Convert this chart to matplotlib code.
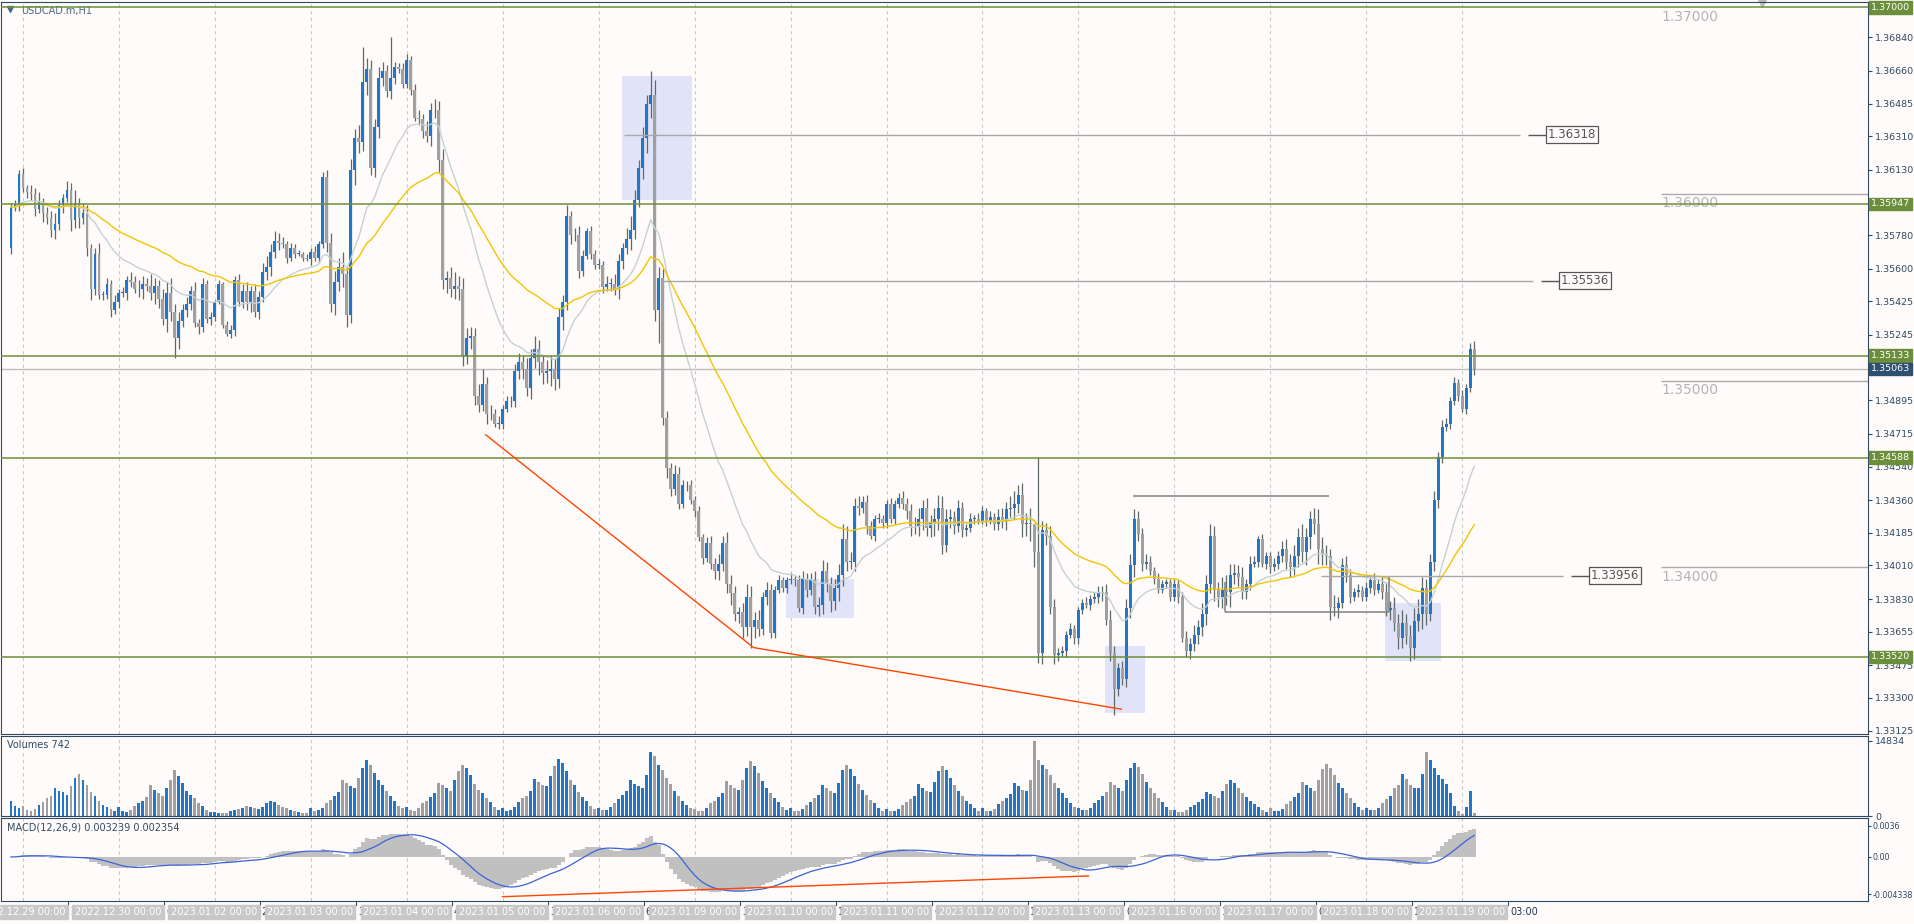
import numpy as np
import pandas as pd
import matplotlib
matplotlib.use("Agg")
import matplotlib.pyplot as plt
from matplotlib.patches import Rectangle
from matplotlib.transforms import blended_transform_factory as btf

# ---------------- DATA (prices in 1e-4 above 1.0, e.g. 3593 = 1.3593) ----------------
first_open = 3571
close_pips = [
3593,3594,3611,3603,3601,3600,3592,3596,3590,3587,3581,3584,3594,3598,3602,3586,3595,3587,3590,3571,
3549,3568,3546,3546,3552,3538,3542,3547,3547,3554,3553,3549,3549,3552,3551,3547,3551,3544,3533,3547,
3537,3523,3532,3538,3541,3548,3531,3529,3552,3533,3534,3542,3552,3530,3525,3527,3554,3542,3548,3542,
3548,3537,3545,3558,3561,3569,3575,3574,3573,3566,3571,3568,3568,3566,3565,3569,3566,3573,3609,3574,
3541,3553,3561,3557,3535,3613,3630,3628,3660,3667,3614,3636,3662,3666,3655,3662,3668,3667,3659,3672,
3656,3641,3640,3634,3631,3645,3645,3618,3554,3555,3549,3551,3549,3513,3523,3524,3492,3487,
3498,3482,3482,3477,3477,3485,3489,3489,3505,3510,3506,3496,3512,3517,3510,3504,3505,3506,3501,3534,
3542,3588,3578,3578,3559,3567,3580,3568,3562,3562,3550,3552,3552,3549,3564,3571,3576,3581,3597,3614,
3630,3648,3653,3538,3555,3480,3453,3442,3450,3434,3444,3444,3436,3430,3416,3405,3413,3402,3398,3402,
3413,3391,3386,3375,3376,3368,3384,3368,3372,3367,3384,3388,3365,3388,3393,3389,3393,3394,3393,3378,
3394,3388,3393,3379,3380,3398,3391,3382,3389,3396,3415,3403,3403,3433,3432,3435,3422,3417,3426,3426,
3424,3434,3426,3434,3437,3434,3430,3422,3422,3426,3432,3421,3424,3426,3432,3412,3426,3427,3422,3432,
3420,3421,3426,3426,
3425,3430,3425,3427,3423,3427,3425,3431,3432,3434,3439,3423,3424,3423,3408,3354,3420,3417,3379,3353,
3354,3355,3364,3367,3362,3377,3381,3380,3383,3384,3386,3387,3372,3354,3335,3346,3340,3378,3401,3426,
3418,3402,3403,3398,3394,3388,3391,3392,3384,3391,3384,3362,3355,3359,3364,3368,3375,3391,3417,3388,
3384,3388,3387,3396,3397,3395,3387,3391,3402,3403,3415,3402,3406,3400,3402,3406,3410,3403,3400,3406,
3416,3408,3416,3426,3423,3410,3407,3406,3379,3378,3381,3401,3396,3384,3387,3388,3384,3389,3393,3388,
3391,3387,3377,3378,3370,3362,3370,3363,3357,3371,3375,3389,3375,3403,3436,3459,3475,3477,3489,3499,
3492,3485,3496,3517,3506,
]
wick_up = [
2,3,2,
3,2,4,3,5,2,3,4,6,3,2,5,4,7,3,5,4,2,3,6,2,3,2,4,
2,3,2,4,3,5,4,3,6,4,3,5,6,8,4,5,3,4,3,5,2,3,2,3,
1,2,1,2,3,2,3,4,5,3,4,3,5,6,4,5,4,3,2,3,2,2,1,2,
2,3,2,3,4,5,6,5,8,4,6,5,7,9,6,5,4,6,5,3,4,3,2,3,
3,2,3,4,3,5,4,6,5,6,4,6,7,5,6,5,5,4,6,8,4,5,3,4,
2,3,3,4,5,4,6,5,7,5,4,6,8,6,5,4,6,3,4,5,3,2,3,2,
3,2,4,3,5,4,3,6,7,5,4,6,5,9,8,6,5,4,3,5,4,3,2,3,
2,3,2,3,4,3,5,4,6,5,4,3,5,7,6,4,5,3,4,3,2,3,2,2,
3,2,3,4,3,4,5,4,6,5,4,5,6,8,7,5,4,5,3,4,3,2,3,2,
2,3,2,3,4,3,4,5,6,4,5,4,6,7,6,5,4,3,4,3,2,3,2,3,
3,2,3,2,4,5,4,6,7,5,6,5,8,9,6,5,4,5,4,3,3,2,3,2,
2,2,3,2,3,4,3,4,5,4,3,4,5,6,5,4,3,4,3,2,3,2,2,2,
3,2,3,4,3,5,4,6,5,6,5,4,7,8,6,5,4,5,3,4,3,2,3,2,
2,3,3,4,5,4,6,5,7,5,4,6,8,6,5,4,6,3,4,5,3,2,3,2,
3,2,4,3,4,5,4,6,5,7,5,6,7,8,6,5,4,5,3,4,3,2,3,2,
3,2,3,4,
]
wick_dn = [
3,2,3,
2,3,3,4,2,5,3,4,5,3,4,2,6,4,5,3,4,6,3,2,3,2,4,2,
3,2,4,3,2,4,5,3,4,6,5,3,7,5,4,6,3,4,3,2,4,3,2,3,
2,1,2,1,2,3,2,3,4,5,3,4,3,4,5,3,4,2,3,2,2,1,2,1,
3,2,3,2,5,4,6,5,7,6,4,8,6,5,7,4,5,6,4,3,4,3,2,2,
2,3,2,3,4,3,5,4,6,5,7,4,5,6,5,4,6,5,4,3,5,3,2,3,
3,2,3,3,4,5,4,6,5,7,6,5,8,6,5,7,4,5,3,4,3,2,3,2,
2,3,2,4,3,5,4,3,6,5,4,6,8,7,6,5,4,5,4,3,3,2,3,2,
3,2,3,2,3,4,5,4,5,6,4,5,6,5,4,6,4,3,4,3,3,2,2,3,
2,3,2,3,4,3,4,5,5,4,6,5,7,6,5,4,5,4,3,4,2,3,2,3,
3,2,3,2,3,4,5,4,5,6,4,5,7,6,5,4,5,4,3,4,3,2,3,2,
2,3,2,3,3,4,5,4,6,5,7,6,9,8,5,6,5,4,5,3,2,3,2,3,
3,2,2,3,2,3,4,3,4,5,4,3,4,5,6,4,4,3,2,3,2,2,2,2,
2,3,2,3,4,4,5,5,6,5,6,5,6,7,8,5,5,4,4,3,2,3,2,3,
3,2,3,3,4,5,4,6,5,7,6,5,8,6,5,7,4,5,3,4,3,2,3,2,
2,3,3,2,4,3,5,4,6,5,4,7,6,5,8,6,4,5,4,3,2,3,2,3,
2,3,2,3,
]
high_fix_idx = [88, 95, 160, 256, 257]
high_fix_val = [3679, 3684, 3666, 3415, 3459]
low_fix_idx = [41, 162, 185, 258, 276]
low_fix_val = [3512, 3520, 3357, 3348, 3321]

volume_hundreds = [
30,20,15,
20,12,10,14,22,28,35,40,55,50,48,42,58,75,82,70,60,48,40,30,22,18,14,10,
18,10,8,12,20,26,30,38,60,52,45,40,55,70,90,78,65,50,42,35,25,20,12,8,
8,6,5,6,10,12,14,16,20,18,15,14,18,25,30,28,22,18,15,12,10,8,6,5,
15,10,12,16,25,32,40,48,70,65,58,55,75,95,110,100,85,70,60,50,40,30,20,15,
18,12,10,15,25,30,38,45,65,60,55,50,70,88,100,95,80,62,52,45,35,28,18,12,
15,10,12,18,28,35,40,50,72,66,60,58,78,98,112,105,88,70,60,48,38,30,20,14,
16,12,12,18,26,34,42,50,70,62,58,55,80,125,118,100,90,75,62,50,40,30,22,15,
14,10,10,16,25,30,38,46,68,60,55,52,70,95,108,98,85,68,55,45,36,28,18,12,
15,10,10,14,22,28,35,42,60,55,50,46,65,90,100,92,78,62,52,42,32,25,16,10,
14,10,10,14,22,28,34,40,62,56,50,48,66,88,98,90,75,60,50,40,30,24,15,10,
15,10,10,14,24,30,36,44,64,58,52,50,70,148,110,100,92,80,65,55,45,35,26,18,
16,12,12,16,26,32,40,48,66,60,55,50,70,95,105,96,82,66,55,45,35,28,18,12,
12,8,8,12,18,22,28,34,48,44,40,36,50,62,70,65,55,45,38,30,24,18,12,8,
15,10,10,14,24,30,38,46,66,60,55,50,70,92,102,95,80,65,55,45,35,26,18,12,
16,12,12,16,26,34,40,55,60,82,72,60,55,55,82,125,110,95,80,72,62,45,20,10,
3,18,50,6,
]

green_levels = [1.37000, 1.35947, 1.35133, 1.34588, 1.33520]
current_price = 1.35063
round_levels = [1.37000, 1.36000, 1.35000, 1.34000]
axis_ticks = [1.36840, 1.36660, 1.36485, 1.36310, 1.36130, 1.35780, 1.35600, 1.35425,
              1.35245, 1.34895, 1.34715, 1.34540, 1.34360, 1.34185, 1.34010, 1.33830,
              1.33655, 1.33475, 1.33300, 1.33125]
day_labels = ["2022.12.29 00:00", "2022.12.30 00:00", "2023.01.02 00:00", "2023.01.03 00:00",
              "2023.01.04 00:00", "2023.01.05 00:00", "2023.01.06 00:00", "2023.01.09 00:00",
              "2023.01.10 00:00", "2023.01.11 00:00", "2023.01.12 00:00", "2023.01.13 00:00",
              "2023.01.16 00:00", "2023.01.17 00:00", "2023.01.18 00:00", "2023.01.19 00:00"]
mid_labels = ["29", "03:", "2 J", "3:0", "4 J", "3:0", "6 J", "3:0", "10", "03:", "12", "03:",
              "16", "03:", "18", "03:00"]
# drawn objects (bar index, price)
red_trend_x = [118.75, 185.75, 277.75]
red_trend_y = [1.3471, 1.3357, 1.3324]
boxes = [(152.75, 170.25, 1.3597, 1.3663), (193.75, 210.75, 1.3373, 1.3394),
         (273.75, 283.75, 1.3322, 1.3358), (343.75, 357.75, 1.3350, 1.3381)]
price_marks = [(1.36318, 153.25, 377.5), (1.35536, 162.75, 380.75), (1.33956, 327.75, 388.25)]
range_top = (1.3438, 280.75, 329.75)
range_bot = (1.3376, 303.75, 344.75)
macd_red_x = [123.0, 269.5]
macd_red_y = [-0.0046, -0.0022]

# ---------------- derived ----------------
c = 1.0 + np.array(close_pips) / 1e4
n = len(c)
o = np.r_[1.0 + first_open / 1e4, c[:-1]]
hi = np.maximum(o, c) + np.array(wick_up[:n]) / 1e4
lo = np.minimum(o, c) - np.array(wick_dn[:n]) / 1e4
for i, v in zip(high_fix_idx, high_fix_val):
    hi[i] = 1.0 + v / 1e4
for i, v in zip(low_fix_idx, low_fix_val):
    lo[i] = 1.0 + v / 1e4
vol = np.array(volume_hundreds[:n]) * 100
x = np.arange(n)
up = c >= o
BLUE = "#2176C7"
GRAY = "#A0A0A0"
cols = np.where(up, BLUE, GRAY)
BG = "#FFFBFA"
AX = "#2E4A62"
GREEN = "#6B8E3A"

s = pd.Series(c)
ma_fast = s.ewm(span=20, adjust=False).mean()
ma_slow = s.ewm(span=50, adjust=False).mean()
macd = s.ewm(span=12, adjust=False).mean() - s.ewm(span=26, adjust=False).mean()
signal = macd.rolling(9, min_periods=1).mean()

W, H = 1915, 924
plt.rcParams['font.family'] = ['DejaVu Sans']
fig = plt.figure(figsize=(W / 100, H / 100), dpi=100, facecolor=BG)
def axrect(y0, y1):
    return [1 / W, 1 - y1 / H, 1867 / W, (y1 - y0) / H]
ax = fig.add_axes(axrect(2, 734), facecolor=BG)
axv = fig.add_axes(axrect(736, 816), facecolor=BG, sharex=ax)
axm = fig.add_axes(axrect(818, 901), facecolor=BG, sharex=ax)
XL = (-2.5, 464.5)
grid_x = [3 + 24 * k for k in range(16)]
for a in (ax, axv, axm):
    for sp in a.spines.values():
        sp.set_color(AX)
    a.tick_params(axis='y', colors=AX, labelsize=6.8, length=3, right=True, left=False,
                  labelright=True, labelleft=False, pad=2)
    a.tick_params(axis='x', bottom=False, labelbottom=False)
    for g in grid_x:
        a.axvline(g, color="#C8C8C8", lw=0.8, ls=(0, (3, 3)), zorder=0)
ax.set_xlim(*XL)
ax.set_ylim(1.33107, 1.37029)

# candles
ax.vlines(x, lo, hi, color="#5E6A6A", lw=0.9, zorder=3)
ax.bar(x, np.maximum(np.abs(c - o), 0.00003), bottom=np.minimum(o, c), width=0.72,
       color=cols, zorder=4, linewidth=0)
ax.plot(x, ma_fast, color="#C4D2D2", lw=1.0, zorder=5)
ax.plot(x, ma_slow, color="#F2C500", lw=1.0, zorder=5)

for (x0, x1, y0, y1) in boxes:
    ax.add_patch(Rectangle((x0, y0), x1 - x0, y1 - y0, color="#E1E4F8", zorder=1, lw=0))
for lv in green_levels:
    ax.axhline(lv, color=GREEN, lw=1.1, zorder=6)
ax.axhline(current_price, color="#BDBDBD", lw=1.0, zorder=2)
ax.plot(red_trend_x, red_trend_y, color="#FF4500", lw=1.0, zorder=6)
ax.hlines(range_top[0], range_top[1], range_top[2], color="#808080", lw=1.1, zorder=6)
ax.hlines(range_bot[0], range_bot[1], range_bot[2], color="#808080", lw=1.1, zorder=6)
ax.vlines([range_bot[1]], range_bot[0], 1.3392, color="#808080", lw=1.1, zorder=6)
ax.vlines([range_bot[2]], range_bot[0], 1.3395, color="#808080", lw=1.1, zorder=6)
for (lv, x0, x1) in price_marks:
    ax.hlines(lv, x0, x1, color="#A8A8A8", lw=1.0, zorder=6)
    ax.hlines(lv, x1 + 2, x1 + 6.5, color="#555555", lw=1.0, zorder=6)
    ax.text(x1 + 7, lv, f"{lv:.5f}", fontsize=8.5, color="#555555", va="center", ha="left",
            zorder=7, bbox=dict(boxstyle="square,pad=0.15", fc=BG, ec="#555555", lw=0.9))
for lv in round_levels:
    px0 = (1661 - 10) / 4
    if lv != 1.37:
        ax.hlines(lv, px0, XL[1], color="#AAAAAA", lw=1.0, zorder=6)
    ax.text(px0, lv - 0.00012, f"{lv:.5f}", fontsize=10, color="#B4B4B4", va="top", ha="left")

ax.set_yticks(axis_ticks)
ax.set_yticklabels([f"{t:.5f}" for t in axis_ticks])
tr = btf(ax.transAxes, ax.transData)
for lv in green_levels:
    ax.text(1.0015, lv, f"{lv:.5f}", transform=tr, fontsize=6.8, color="white", va="center",
            ha="left", zorder=10, clip_on=False,
            bbox=dict(boxstyle="square,pad=0.2", fc=GREEN, ec=GREEN))
ax.text(1.0015, current_price, f"{current_price:.5f}", transform=tr, fontsize=6.8, color="white",
        va="center", ha="left", zorder=10, clip_on=False,
        bbox=dict(boxstyle="square,pad=0.2", fc="#2E4F6E", ec="#2E4F6E"))
ax.text(0.011, 0.994, "USDCAD.m,H1", transform=ax.transAxes, fontsize=7, color="#4A6A82",
        va="top", ha="left")
ax.plot([0.005], [0.99], transform=ax.transAxes, marker="v", ms=4, color="#4A6A82")
ax.plot([(1762 - 10) / 4], [1.37025], marker="v", ms=6, color="#BBBBBB", clip_on=False)

# volumes
axv.bar(x, vol, width=0.72, color=cols, linewidth=0)
axv.set_ylim(0, 14834 * 1.06)
axv.set_yticks([0, 14834])
axv.set_yticklabels(["0", "14834"])
axv.text(0.003, 0.95, "Volumes 742", transform=axv.transAxes, fontsize=7, color=AX,
         va="top", ha="left")

# MACD
axm.bar(x, macd, width=1.0, color="#C0C0C0", linewidth=0)
axm.plot(x, signal, color="#3A63D8", lw=0.9)
axm.plot(macd_red_x, macd_red_y, color="#FF4500", lw=1.0)
axm.set_ylim(-0.0051, 0.0045)
axm.set_yticks([-0.004338, 0.0, 0.0036])
axm.set_yticklabels(["-0.004338", "0.00", "0.0036"])
axm.tick_params(axis='y', labelsize=5.8, pad=1, length=2)
axm.text(0.003, 0.95, "MACD(12,26,9) 0.003239 0.002354", transform=axm.transAxes,
         fontsize=7, color=AX, va="top", ha="left")

# x labels
ty = 1 - 912 / H
for k in range(16):
    gx = 22 + 96 * k
    mx = gx + 46
    fig.text((mx + 2) / W, ty, mid_labels[k], fontsize=7, color="#1E3550", ha="left",
             va="center", zorder=1)
    fig.text(gx / W, ty, day_labels[k], fontsize=7, color="white", ha="center", va="center",
             zorder=2, bbox=dict(boxstyle="square,pad=0.25", fc="#C8C8C8", ec="#C8C8C8"))
    fig.add_artist(plt.Line2D([mx / W] * 2, [1 - 901 / H, 1 - 905 / H], color=AX, lw=0.8))

fig.savefig("out.png", dpi=100, facecolor=BG)
